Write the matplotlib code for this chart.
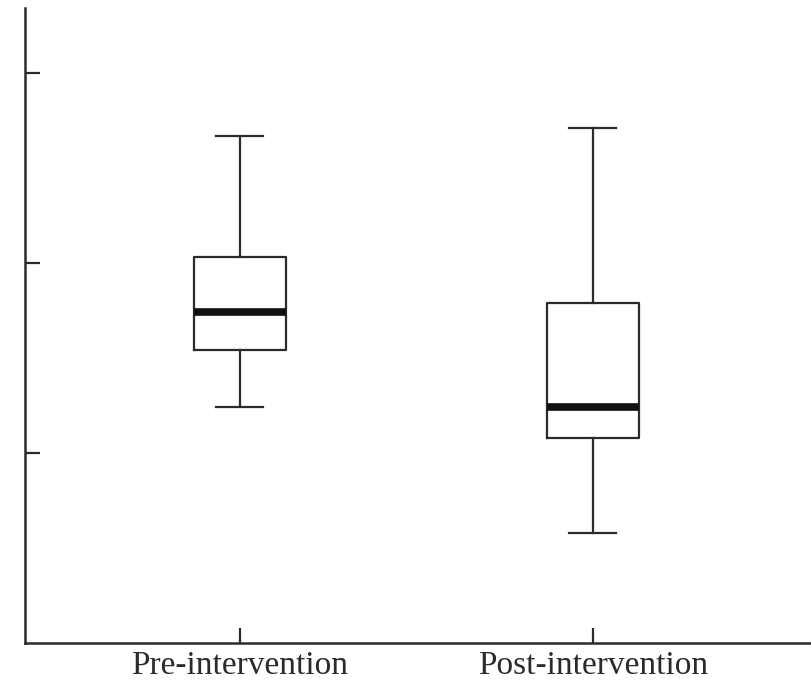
import matplotlib
matplotlib.use("Agg")
import matplotlib.pyplot as plt

groups = ["Pre-intervention", "Post-intervention"]
whisker_low = [1.24, 0.58]
q1 = [1.54, 1.08]
median = [1.74, 1.24]
q3 = [2.03, 1.79]
whisker_high = [2.67, 2.71]

ink = "#2b2b2b"

stats = []
for i, name in enumerate(groups):
    stats.append({"label": name, "whislo": whisker_low[i], "q1": q1[i], "med": median[i],
                  "q3": q3[i], "whishi": whisker_high[i], "fliers": []})

fig = plt.figure(figsize=(8.11, 6.85), dpi=100)
ax = fig.add_axes([25 / 811, 42 / 685, 1 - 25 / 811, 635 / 685])

ax.bxp(stats, positions=[1, 2], widths=0.26, capwidths=0.133, showfliers=False,
       boxprops=dict(color=ink, linewidth=1.6),
       whiskerprops=dict(color=ink, linewidth=1.6),
       capprops=dict(color=ink, linewidth=1.6),
       medianprops=dict(color="#111111", linewidth=5.5, solid_capstyle="butt"))

ax.set_xlim(0.391, 2.618)
ax.set_ylim(0, 3.342)
ax.set_yticks([1, 2, 3])
ax.set_yticklabels([])
ax.set_xticks([1, 2])
ax.set_xticklabels(groups, fontfamily="Liberation Serif", fontsize=24, color=ink)
ax.tick_params(direction="in", length=11, width=1.6, color=ink, pad=5.5)
for s in ["top", "right"]:
    ax.spines[s].set_visible(False)
for s in ["left", "bottom"]:
    ax.spines[s].set_linewidth(1.8)
    ax.spines[s].set_color(ink)

fig.savefig("out.png", dpi=100)
